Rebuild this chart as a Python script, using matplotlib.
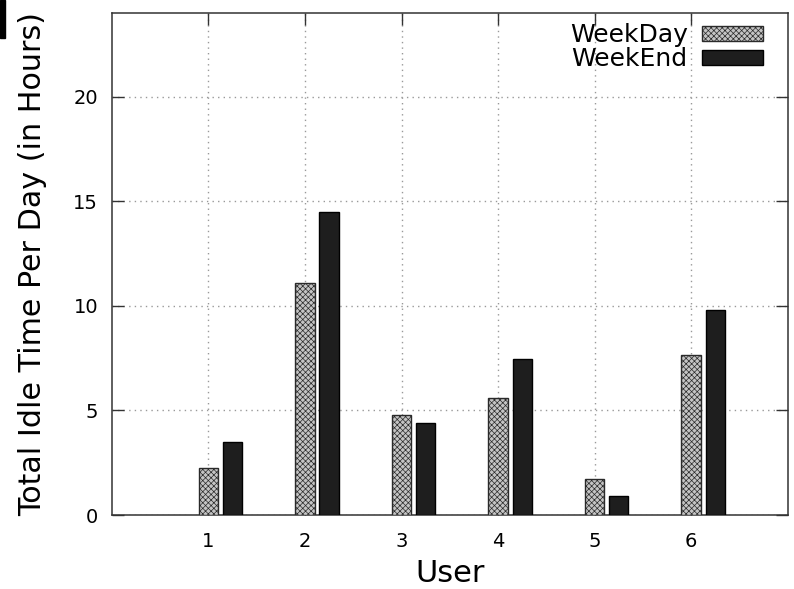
import numpy as np
import matplotlib
matplotlib.use("Agg")
from matplotlib import pyplot as plt
from matplotlib.patches import Rectangle

### data ###
users = [1, 2, 3, 4, 5, 6]
weekday = [2.25, 11.1, 4.77, 5.61, 1.71, 7.66]
weekend = [3.5, 14.51, 4.40, 7.46, 0.91, 9.81]
yticks = [0, 5, 10, 15, 20]

plt.rcParams['hatch.linewidth'] = 0.5

fig = plt.figure(figsize=(7.94, 5.89), dpi=100)
ax = fig.add_axes([0.141, 0.1256, 0.851, 0.852])

x = np.array(users)
w = 0.2
ax.bar(x, weekday, width=w, facecolor='#c4c4c4', edgecolor='#2a2a2a',
       hatch='xxxxxx', linewidth=1.0, label='WeekDay', zorder=3)
ax.bar(x + 0.25, weekend, width=w, facecolor='#1e1e1e', edgecolor='#000000',
       linewidth=1.0, label='WeekEnd', zorder=3)

ax.set_xlim(0, 7)
ax.set_ylim(0, 24)
ax.set_xticks(users)
ax.set_yticks(yticks)
ax.tick_params(direction='in', length=8.5, width=1.0, labelsize=14,
               right=True, top=True, color='#333333')
ax.tick_params(axis='y', pad=10)
ax.tick_params(axis='x', pad=12)
ax.grid(True, linestyle=(0, (1, 3)), color='#999999', linewidth=1.0, zorder=0)
for s in ax.spines.values():
    s.set_linewidth(1.1)
    s.set_color('#333333')

ax.set_xlabel('User', fontsize=22, labelpad=6)
ax.set_ylabel('Total Idle Time Per Day (in Hours)', fontsize=21.7, labelpad=19)

leg = ax.legend(loc='upper right', bbox_to_anchor=(1.0, 1.03), frameon=False,
                fontsize=18, markerfirst=False,
                handlelength=2.44, handleheight=0.52, labelspacing=0.0,
                handletextpad=0.56, borderaxespad=0.5, borderpad=0.5)
for t in leg.get_texts():
    t.set_ha('right')

# black strip in upper left corner of the source image
fig.patches.append(Rectangle((0, 1 - 38 / 589), 5 / 794, 38 / 589,
                             transform=fig.transFigure, color='black'))

plt.savefig('out.png', dpi=100)
